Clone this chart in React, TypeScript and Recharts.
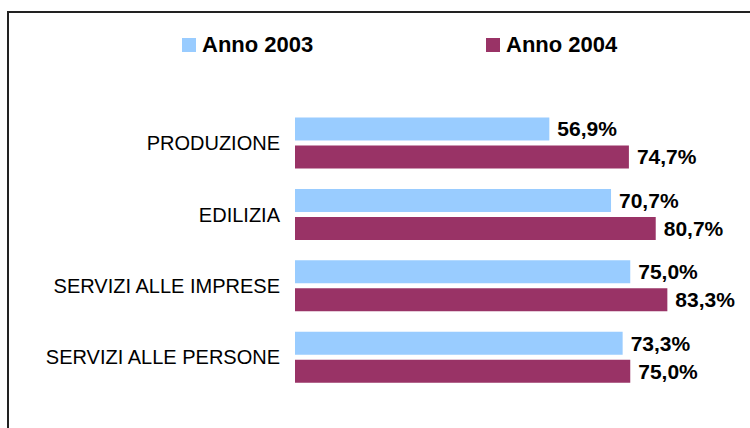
import React from 'react';
import { BarChart, Bar, XAxis, YAxis, Legend, LabelList } from 'recharts';

const categories = ['PRODUZIONE', 'EDILIZIA', 'SERVIZI ALLE IMPRESE', 'SERVIZI ALLE PERSONE'];
const anno2003 = [56.9, 70.7, 75.0, 73.3];
const anno2004 = [74.7, 80.7, 83.3, 75.0];
const seriesNames = ['Anno 2003', 'Anno 2004'];

const data = categories.map((name, i) => ({ name, a2003: anno2003[i], a2004: anno2004[i] }));

const FONT = '"Liberation Sans", Arial, Helvetica, sans-serif';
const fmt = (v: any) => Number(v).toFixed(1).replace('.', ',') + '%';

const CatTick = (props: any) => {
  const { x, y, payload } = props;
  return (
    <text x={x} y={y} textAnchor="end" dominantBaseline="central" fontSize={20} fontFamily={FONT} fill="#000">
      {payload.value}
    </text>
  );
};

const LegendContent = (props: any) => {
  const { payload } = props;
  const lefts = [182, 486];
  return (
    <div style={{ position: 'relative', width: 750, height: 100 }}>
      {(payload || []).map((p: any, i: number) => (
        <div key={i} style={{ position: 'absolute', left: lefts[i], top: 38, display: 'flex', alignItems: 'flex-start' }}>
          <div style={{ width: 14, height: 14, background: p.color, marginRight: 6 }} />
          <span style={{ fontFamily: FONT, fontWeight: 'bold', fontSize: 22, lineHeight: '14px', color: '#000', whiteSpace: 'nowrap' }}>
            {p.value}
          </span>
        </div>
      ))}
    </div>
  );
};

export default function App() {
  return (
    <div style={{ position: 'fixed', left: 0, top: 0, width: 750, height: 428, overflow: 'hidden', background: '#fff' }}>
      <div style={{ position: 'absolute', left: 7, top: 11, width: 800, height: 500, border: '2px solid #222', boxSizing: 'border-box' }} />
      <div style={{ position: 'absolute', left: 0, top: 0 }}>
        <BarChart
          width={750}
          height={428}
          data={data}
          layout="vertical"
          margin={{ top: 7.5, right: 8, bottom: 35, left: 0 }}
          barCategoryGap={10}
          barGap={5}
        >
          <XAxis type="number" domain={[0, 100]} hide />
          <YAxis
            type="category"
            dataKey="name"
            width={295}
            axisLine={false}
            tickLine={false}
            tickSize={0}
            tickMargin={15}
            tick={<CatTick />}
            interval={0}
          />
          <Legend
            verticalAlign="top"
            content={<LegendContent />}
            wrapperStyle={{ position: 'absolute', top: 0, left: 0, width: 750, height: 100 }}
          />
          <Bar dataKey="a2003" name={seriesNames[0]} fill="#99CCFF" isAnimationActive={false}>
            <LabelList dataKey="a2003" position="right" offset={8} formatter={fmt} fill="#000" fontSize={21} fontWeight="bold" fontFamily={FONT} />
          </Bar>
          <Bar dataKey="a2004" name={seriesNames[1]} fill="#993366" isAnimationActive={false}>
            <LabelList dataKey="a2004" position="right" offset={8} formatter={fmt} fill="#000" fontSize={21} fontWeight="bold" fontFamily={FONT} />
          </Bar>
        </BarChart>
      </div>
    </div>
  );
}
